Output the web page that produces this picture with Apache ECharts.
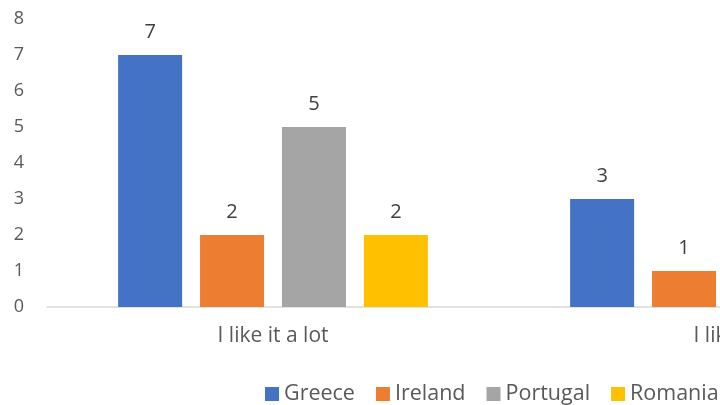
<!DOCTYPE html>
<html>
<head>
<meta charset="utf-8">
<script src="https://cdn.jsdelivr.net/npm/echarts@6/dist/echarts.min.js"></script>
<style>
  html, body { margin: 0; padding: 0; background: #ffffff; }
  #chart { width: 720px; height: 405px; }
</style>
</head>
<body>
<div id="chart"></div>
<script>
// Survey answers per country
const categories = ['I like it a lot', 'I like it'];
const greece   = [7, 3];
const ireland  = [2, 1];
const portugal = [5, null];
const romania  = [2, null];
const yTicks = [0, 1, 2, 3, 4, 5, 6, 7, 8];

const seriesDefs = [
  { name: 'Greece',   data: greece,   color: '#4472C4' },
  { name: 'Ireland',  data: ireland,  color: '#ED7D31' },
  { name: 'Portugal', data: portugal, color: '#A5A5A5' },
  { name: 'Romania',  data: romania,  color: '#FFC000' }
];

const FONT = '"Open Sans", "Noto Sans", sans-serif';

const chart = echarts.init(document.getElementById('chart'), null, { renderer: 'canvas' });

chart.setOption({
  animation: false,
  backgroundColor: '#ffffff',
  textStyle: { fontFamily: FONT },
  // the plot runs on past the right edge of the page
  grid: { left: 47, top: 19, width: 904, height: 288, containLabel: false, outerBoundsMode: 'none' },
  legend: {
    left: 260,
    top: 378,
    width: 520,
    itemWidth: 14,
    itemHeight: 14,
    itemGap: 21,
    icon: 'rect',
    textStyle: { fontFamily: FONT, fontSize: 21.5, color: '#595959' },
    data: seriesDefs.map(s => s.name)
  },
  xAxis: {
    type: 'category',
    data: categories,
    axisLine: { show: true, lineStyle: { color: '#D9D9D9', width: 1.5 } },
    axisTick: { show: false },
    axisLabel: { fontFamily: FONT, fontSize: 21, color: '#595959', margin: 19 },
    splitLine: { show: false }
  },
  yAxis: {
    type: 'value',
    min: yTicks[0],
    max: yTicks[yTicks.length - 1],
    interval: 1,
    axisLine: { show: false },
    axisTick: { show: false },
    splitLine: { show: false },
    axisLabel: { fontFamily: FONT, fontSize: 18, color: '#595959', margin: 23, align: 'right' }
  },
  series: seriesDefs.map(s => ({
    name: s.name,
    type: 'bar',
    data: s.data,
    barWidth: 64,
    barGap: '28%',
    itemStyle: { color: s.color },
    label: {
      show: true,
      position: 'top',
      distance: 13,
      fontFamily: FONT,
      fontSize: 20,
      color: '#404040'
    }
  }))
});
</script>
</body>
</html>
